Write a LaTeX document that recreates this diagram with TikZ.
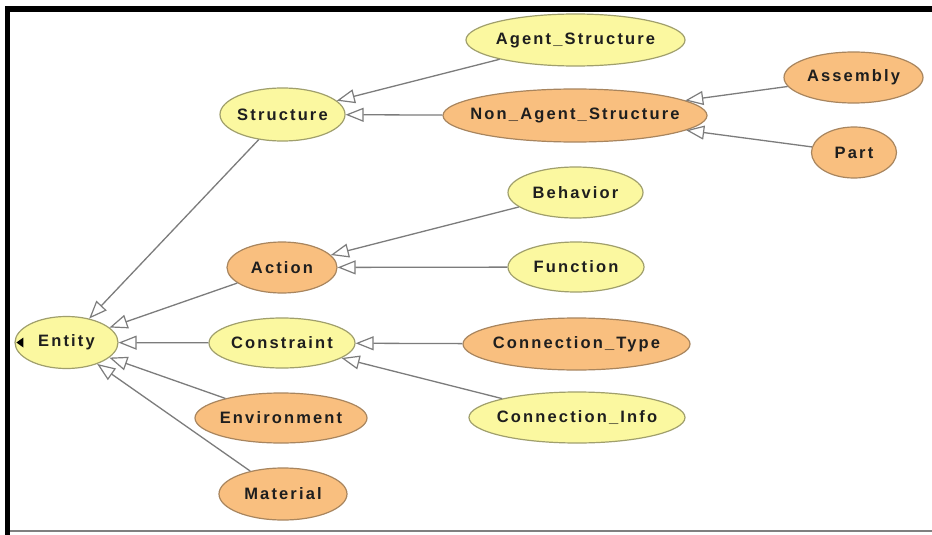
\documentclass[tikz,border=0pt]{standalone}
\usepackage{fontspec}
\usetikzlibrary{shapes.geometric,arrows.meta}
\newfontfamily\lblfont{Liberation Sans}[LetterSpace=13]
\definecolor{yfill}{HTML}{FBF8A0}
\definecolor{ydraw}{HTML}{A09F6C}
\definecolor{ofill}{HTML}{F9BF7F}
\definecolor{odraw}{HTML}{A8855E}
\definecolor{edgegray}{HTML}{7C7C7C}
\definecolor{txt}{HTML}{1E1E1E}
\tikzset{
  cls/.style n args={3}{ellipse, inner sep=0pt, line width=1.2pt,
    minimum width=#1, minimum height=#2,
    label={[font=\lblfont\bfseries\fontsize{16.5}{19}\selectfont, text=txt]center:#3}},
  yel/.style={fill=yfill, draw=ydraw},
  org/.style={fill=ofill, draw=odraw},
  isa/.style={draw=edgegray, line width=1.3pt,
    -{Triangle[length=18pt, width=14pt, fill=white, line width=1.2pt]}},
}
\begin{document}
\begin{tikzpicture}[x=1pt, y=-1pt]
  \useasboundingbox (0,0) rectangle (932,535);
  \fill[white] (0,0) rectangle (932,535);
  % window frame
  \fill[black] (5,6) rectangle (932,12);
  \fill[black] (5,6) rectangle (10,535);
  \draw[gray, line width=2pt] (10,531) -- (932,531);

  % classes
  \node[cls={103pt}{52pt}{Entity}, yel] (entity) at (66.5,342.5) {};
  \node[cls={125pt}{53pt}{Structure}, yel] (structure) at (282.5,114.5) {};
  \node[cls={110pt}{51pt}{Action}, org] (action) at (282,267.5) {};
  \node[cls={146pt}{50pt}{Constraint}, yel] (constraint) at (282,343) {};
  \node[cls={172pt}{50pt}{Environment}, org] (environment) at (281,418) {};
  \node[cls={128pt}{52pt}{Material}, org] (material) at (283,494) {};
  \node[cls={219pt}{52pt}{Agent\_Structure}, yel] (agent) at (575.5,40) {};
  \node[cls={264pt}{53pt}{Non\_Agent\_Structure}, org] (nonagent) at (575,115.5) {};
  \node[cls={139pt}{51pt}{Assembly}, org] (assembly) at (853.5,77.5) {};
  \node[cls={85pt}{51pt}{Part}, org] (part) at (854,152.5) {};
  \node[cls={135pt}{51pt}{Behavior}, yel] (behavior) at (575.5,192.5) {};
  \node[cls={136pt}{50pt}{Function}, yel] (function) at (576,267) {};
  \node[cls={227pt}{52pt}{Connection\_Type}, org] (conntype) at (576.5,344) {};
  \node[cls={216pt}{51pt}{Connection\_Info}, yel] (conninfo) at (577,417.5) {};

  % expand marker on the root class
  \fill[black] ([xshift=2pt]entity.west) -- ++(7,-5) -- ++(0,10) -- cycle;

  % subclass links
  \draw[isa] (structure) -- (entity);
  \draw[isa] (action) -- (entity);
  \draw[isa] (constraint) -- (entity);
  \draw[isa] (environment) -- (entity);
  \draw[isa] (material) -- (entity);
  \draw[isa] (agent) -- (structure);
  \draw[isa] (nonagent) -- (structure);
  \draw[isa] (assembly) -- (nonagent);
  \draw[isa] (part) -- (nonagent);
  \draw[isa] (behavior) -- (action);
  \draw[isa] (function) -- (action);
  \draw[isa] (conntype) -- (constraint);
  \draw[isa] (conninfo) -- (constraint);
\end{tikzpicture}
\end{document}
